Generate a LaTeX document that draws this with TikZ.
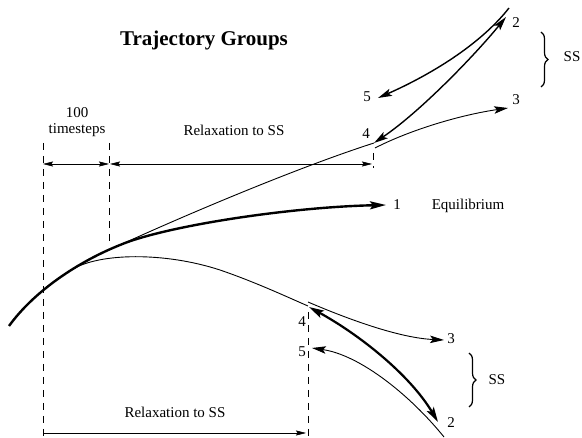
\documentclass[tikz,border=0pt]{standalone}
\usepackage{fontspec}
\setmainfont{Liberation Serif}
\usetikzlibrary{arrows.meta,decorations.pathreplacing}
\begin{document}
\begin{tikzpicture}[x=1pt,y=-1pt,
  lbl/.style={font=\fontsize{15}{17}\selectfont, inner sep=0pt},
  thinline/.style={line width=0.9pt},
  medline/.style={line width=1.4pt},
  thickline/.style={line width=2.4pt},
  dashline/.style={line width=0.6pt, dash pattern=on 7pt off 6pt},
  tip/.style={-{Stealth[length=14pt,width=7.5pt,inset=3pt]}},
  dtip/.style={{Stealth[length=14pt,width=7.5pt,inset=3pt]}-{Stealth[length=14pt,width=7.5pt,inset=3pt]}},
  dimarrow/.style={line width=0.6pt},
  dimboth/.style={{Stealth[length=10pt,width=5pt,inset=1.5pt]}-{Stealth[length=10pt,width=5pt,inset=1.5pt]}},
  dimend/.style={-{Stealth[length=10pt,width=5pt,inset=1.5pt]}},
  bracestyle/.style={decorate, decoration={brace, amplitude=7pt}, line width=1.2pt}]
\useasboundingbox (0,0) rectangle (582,438);

% title
\node[font=\fontsize{21}{24}\selectfont\bfseries, inner sep=0pt] (title) at (204,40) {Trajectory Groups};

% dimension labels
\node[lbl] (hundred) at (77,113) {100};
\node[lbl] (tsteps) at (77,130) {timesteps};
\node[lbl] (relaxA) at (234,130) {Relaxation to SS};
\node[lbl] (relaxB) at (175,412) {Relaxation to SS};

% dashed verticals
\coordinate (dA1) at (43,143); \coordinate (dA2) at (43,438);
\coordinate (dB1) at (109,143); \coordinate (dB2) at (109,245);
\coordinate (dC1) at (373,153); \coordinate (dC2) at (373,168);
\coordinate (dD1) at (308,312); \coordinate (dD2) at (308,438);
\draw[dashline] (dA1) -- (dA2);
\draw[dashline] (dB1) -- (dB2);
\draw[dashline] (dC1) -- (dC2);
\draw[dashline] (dD1) -- (dD2);

% dimension arrows
\coordinate (hA) at (43,164); \coordinate (hB) at (109,164);
\coordinate (hC) at (110,164); \coordinate (hD) at (372,164);
\coordinate (lA) at (43,433); \coordinate (lB) at (306,433);
\draw[dimarrow, dimboth] (hA) -- (hB);
\draw[dimarrow, dimboth] (hC) -- (hD);
\draw[dimarrow, dimend] (lA) -- (lB);

% main thick trajectory to equilibrium
\coordinate (start) at (9,326);
\coordinate (junc) at (120,245);
\coordinate (eqtip) at (386,205);
\coordinate (lbr) at (71.1,270.1);
\draw[thickline, -{Stealth[length=16pt,width=8pt,inset=3pt]}] (start) .. controls (35,290) and (80,261) .. (junc)
  .. controls (165,226) and (290,207) .. (eqtip);
\node[lbl] (one) at (397,205) {1};
\node[lbl] (equil) at (468,206) {Equilibrium};

% upper thin trajectory
\coordinate (u4p) at (374,143);
\draw[thinline] (junc) .. controls (170,222) and (290,170) .. (u4p);
% lower thin trajectory
\coordinate (lmid) at (220,270);
\coordinate (l4p) at (308,306);
\draw[thinline] (lbr) .. controls (99,252.5) and (165,252) .. (lmid)
  .. controls (255,282) and (285,296) .. (l4p);

% upper group
\coordinate (u2p) at (506,17);
\coordinate (utop) at (509,8);
\coordinate (u5p) at (378,98);
\coordinate (u3s) at (375,148);
\coordinate (u3p) at (508,108);
\draw[medline, dtip] (u4p) .. controls (420,112) and (475,55) .. (u2p);
\draw[medline, tip] (utop) .. controls (480,45) and (430,75) .. (u5p);
\draw[thinline, tip] (u3s) .. controls (410,130) and (460,115) .. (u3p);
\node[lbl] (u4) at (366,134) {4};
\node[lbl] (u5) at (367,97) {5};
\node[lbl] (u3) at (516,100) {3};
\node[lbl] (u2) at (516,23) {2};
\draw[bracestyle] (541,32) -- (541,87);
\node[lbl] (uss) at (572,57) {SS};

% lower group
\coordinate (l3s) at (308,302);
\coordinate (l3p) at (444,340);
\coordinate (l4q) at (309,307);
\coordinate (l2p) at (438,422);
\coordinate (lbot) at (444,437);
\coordinate (l5p) at (312,348);
\draw[thinline, tip] (l3s) .. controls (350,320) and (400,338) .. (l3p);
\draw[line width=2.2pt, {Stealth[length=15pt,width=8pt,inset=3pt]}-{Stealth[length=15pt,width=8pt,inset=3pt]}]
  (l4q) .. controls (360,335) and (410,375) .. (l2p);
\draw[thinline, tip] (lbot) .. controls (410,395) and (360,355) .. (l5p);
\node[lbl] (l4) at (302,322) {4};
\node[lbl] (l5) at (302,352) {5};
\node[lbl] (l3) at (451,339) {3};
\node[lbl] (l2) at (451,423) {2};
\draw[bracestyle] (469,353) -- (469,407);
\node[lbl] (lss) at (497,380) {SS};
\end{tikzpicture}
\end{document}
